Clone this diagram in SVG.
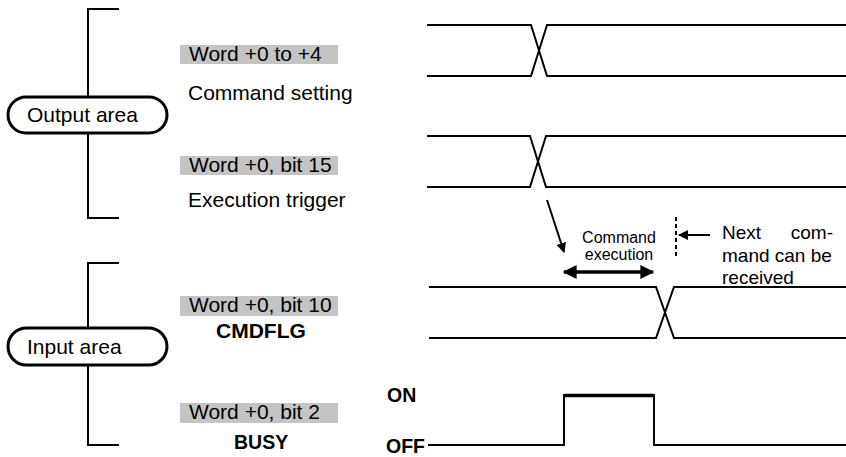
<svg xmlns="http://www.w3.org/2000/svg" width="846" height="457" viewBox="0 0 846 457">
<style>
.ln{fill:none;stroke:#000;stroke-width:2}
.pill{fill:#fff;stroke:#000;stroke-width:3}
.t{font-family:"Liberation Sans",Arial,sans-serif;fill:#000}
.lb{font-size:21px}
.b{font-weight:bold}
.g{fill:#c4c4c4}
</style>
<defs>
<marker id="ah" viewBox="0 0 10 10" refX="9" refY="5" markerWidth="5" markerHeight="5" orient="auto-start-reverse" markerUnits="strokeWidth">
<path d="M0,0 L10,5 L0,10 z" fill="#000"/>
</marker>
<marker id="ah2" viewBox="0 0 10 10" refX="9" refY="5" markerWidth="4" markerHeight="4" orient="auto-start-reverse" markerUnits="strokeWidth">
<path d="M0,0 L10,5 L0,10 z" fill="#000"/>
</marker>
</defs>
<rect width="846" height="457" fill="#fff"/>

<g id="output-area">
<path class="ln" d="M119,9 H88 V218 H119"/>
<rect class="pill" x="8" y="97" width="159" height="36" rx="18"/>
<text class="t lb" x="27" y="122">Output area</text>
</g>

<g id="input-area">
<path class="ln" d="M119,263 H88 V445 H119"/>
<rect class="pill" x="8" y="328" width="159" height="37" rx="18.5"/>
<text class="t lb" x="27" y="354">Input area</text>
</g>

<g id="label-cmd">
<rect class="g" x="180" y="45" width="158" height="19"/>
<text class="t lb" x="189" y="61">Word +0 to +4</text>
<text class="t lb" x="188" y="100">Command setting</text>
</g>

<g id="label-trigger">
<rect class="g" x="180" y="156" width="158" height="19"/>
<text class="t lb" x="189" y="172">Word +0, bit 15</text>
<text class="t lb" x="188" y="207">Execution trigger</text>
</g>

<g id="label-cmdflg">
<rect class="g" x="180" y="296" width="158" height="20"/>
<text class="t lb" x="189" y="312">Word +0, bit 10</text>
<text class="t b" x="216" y="338" font-size="21">CMDFLG</text>
</g>

<g id="label-busy">
<rect class="g" x="180" y="403" width="158" height="20"/>
<text class="t lb" x="189" y="419">Word +0, bit 2</text>
<text class="t b" x="234" y="449" font-size="19.5">BUSY</text>
</g>

<g id="signal-cmd">
<path class="ln" d="M427,25 H531 L547,76 H846"/>
<path class="ln" d="M427,76 H531 L547,25 H846"/>
</g>

<g id="signal-trigger">
<path class="ln" d="M427,136 H530 L546,187 H846"/>
<path class="ln" d="M427,187 H530 L546,136 H846"/>
</g>

<g id="signal-cmdflg">
<path class="ln" d="M429,287 H656 L674,338 H846"/>
<path class="ln" d="M429,338 H656 L674,287 H846"/>
</g>

<g id="signal-busy">
<text class="t b" x="387" y="402" font-size="19.5">ON</text>
<text class="t b" x="386" y="453" font-size="19.5">OFF</text>
<path class="ln" d="M428,445 H564 V395 H654 V445 H846"/>
<path d="M565,395.5 H654" stroke="#000" stroke-width="3.5" fill="none"/>
</g>

<g id="connectors">
<path class="ln" d="M547,200 L564,252" marker-end="url(#ah)"/>
<path d="M564,272 H653" stroke="#000" stroke-width="3.5" fill="none" marker-start="url(#ah2)" marker-end="url(#ah2)"/>
<path d="M676,217 V256" stroke="#000" stroke-width="2" stroke-dasharray="4,3" fill="none"/>
<path class="ln" d="M710,235 H679" marker-end="url(#ah)"/>
</g>

<g id="annotation">
<text class="t" x="619" y="243" font-size="16" text-anchor="middle">Command</text>
<text class="t" x="619" y="260" font-size="16" text-anchor="middle">execution</text>
<text class="t" x="722" y="239" font-size="19">Next</text>
<text class="t" x="833" y="239" font-size="19" text-anchor="end">com-</text>
<text class="t" x="722" y="262" font-size="19">mand can be</text>
<text class="t" x="722" y="284" font-size="19">received</text>
</g>
</svg>
